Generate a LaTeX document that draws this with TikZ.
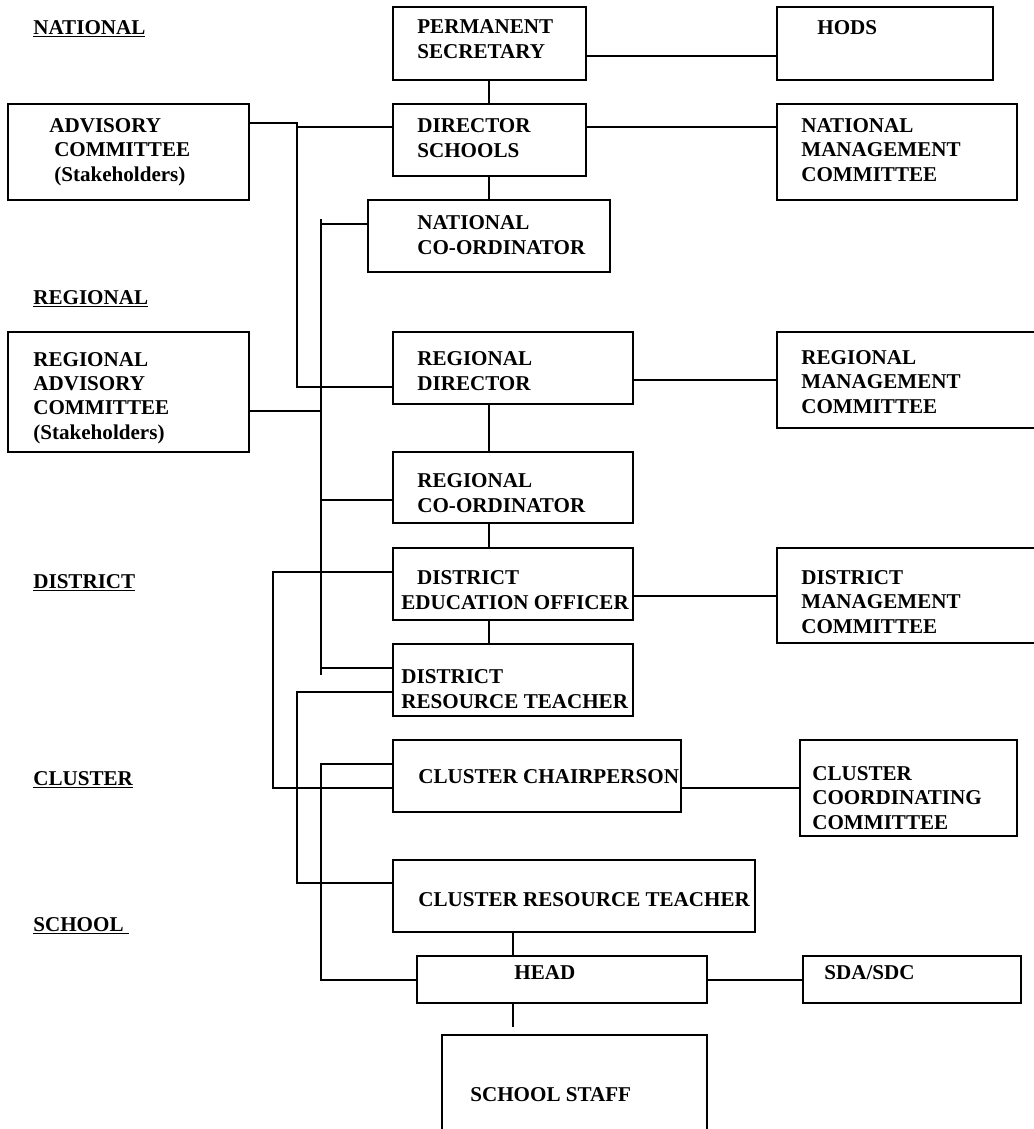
\documentclass[tikz,border=0pt]{standalone}
\usepackage{fontspec}
\setmainfont{Liberation Serif}
\usetikzlibrary{fit}

\begin{document}
\begin{tikzpicture}[x=0.02cm, y=-0.02cm]
	\tikzset{boite/.style={draw=black, line width=1.1pt, inner sep=0pt}, texte/.style={anchor=base west, align=left, inner sep=0pt, font=\fontsize{12}{13.7}\selectfont\bfseries}, trait/.style={line width=1.1pt}};

	\clip (0,0) rectangle (1034,1129);

	% niveaux
	\node[texte] (niv1) at (33,  34) {\underline{NATIONAL}};
	\node[texte] (niv2) at (33, 304) {\underline{REGIONAL}};
	\node[texte] (niv3) at (33, 588) {\underline{DISTRICT}};
	\node[texte] (niv4) at (33, 785) {\underline{CLUSTER}};
	\node[texte] (niv5) at (33, 931) {\underline{SCHOOL\ }};

	% boites
	\node[boite, fit={(393,   7) (586,   80)}] (ps)    {};
	\node[boite, fit={(777,   7) (993,   80)}] (hods)  {};
	\node[boite, fit={(393, 104) (586,  176)}] (ds)    {};
	\node[boite, fit={(777, 104) (1017, 200)}] (nmc)   {};
	\node[boite, fit={(8,   104) (249,  200)}] (acs)   {};
	\node[boite, fit={(368, 200) (610,  272)}] (nc)    {};
	\node[boite, fit={(8,   332) (249,  452)}] (rac)   {};
	\node[boite, fit={(393, 332) (633,  404)}] (rd)    {};
	\node[boite, fit={(777, 332) (1060, 428)}] (rmc)   {};
	\node[boite, fit={(393, 452) (633,  523)}] (rc)    {};
	\node[boite, fit={(393, 548) (633,  620)}] (deo)   {};
	\node[boite, fit={(777, 548) (1060, 643)}] (dmc)   {};
	\node[boite, fit={(393, 644) (633,  716)}] (drt)   {};
	\node[boite, fit={(393, 740) (681,  812)}] (cc)    {};
	\node[boite, fit={(800, 740) (1017, 836)}] (ccc)   {};
	\node[boite, fit={(393, 860) (755,  932)}] (crt)   {};
	\node[boite, fit={(417, 956) (707, 1003)}] (head)  {};
	\node[boite, fit={(803, 956) (1021,1003)}] (sda)   {};
	\node[boite, fit={(442,1035) (707, 1160)}] (staff) {};

	% textes (ancre sur la ligne de base de la derniere ligne)
	\node[texte] (tps)    at (417,  58) {PERMANENT\\SECRETARY};
	\node[texte] (thods)  at (817,  34) {HODS};
	\node[texte] (tds)    at (417, 157) {DIRECTOR\\SCHOOLS};
	\node[texte] (tnmc)   at (801, 181) {NATIONAL\\MANAGEMENT\\COMMITTEE};
	\node[texte] (tacs)   at (49,  181) {ADVISORY\\\hspace*{2.8pt}COMMITTEE\\\hspace*{2.8pt}(Stakeholders)};
	\node[texte] (tnc)    at (417, 254) {NATIONAL\\CO-ORDINATOR};
	\node[texte] (trac)   at (33,  439) {REGIONAL\\ADVISORY\\COMMITTEE\\(Stakeholders)};
	\node[texte] (trd)    at (417, 390) {REGIONAL\\DIRECTOR};
	\node[texte] (trmc)   at (801, 413) {REGIONAL\\MANAGEMENT\\COMMITTEE};
	\node[texte] (trc)    at (417, 512) {REGIONAL\\CO-ORDINATOR};
	\node[texte] (tdeo)   at (401, 609) {\hspace*{9pt}DISTRICT\\EDUCATION OFFICER};
	\node[texte] (tdmc)   at (801, 633) {DISTRICT\\MANAGEMENT\\COMMITTEE};
	\node[texte] (tdrt)   at (401, 708) {DISTRICT\\RESOURCE TEACHER};
	\node[texte] (tcc)    at (418, 783) {CLUSTER CHAIRPERSON};
	\node[texte] (tccc)   at (812, 829) {CLUSTER\\COORDINATING\\COMMITTEE};
	\node[texte] (tcrt)   at (418, 906) {CLUSTER RESOURCE TEACHER};
	\node[texte] (thead)  at (514, 979) {HEAD};
	\node[texte] (tsda)   at (824, 979) {SDA/SDC};
	\node[texte] (tstaff) at (470,1101) {SCHOOL STAFF};

	% axes
	\coordinate (axe)  at (489, 0);
	\coordinate (axe2) at (513, 0);
	\coordinate (busA) at (297, 0);
	\coordinate (busB) at (321, 0);
	\coordinate (busC) at (273, 0);

	% liaisons verticales
	\draw[trait] (ps.south -| axe)   -- (ds.north -| axe);
	\draw[trait] (ds.south -| axe)   -- (nc.north -| axe);
	\draw[trait] (rd.south -| axe)   -- (rc.north -| axe);
	\draw[trait] (rc.south -| axe)   -- (deo.north -| axe);
	\draw[trait] (deo.south -| axe)  -- (drt.north -| axe);
	\draw[trait] (crt.south -| axe2) -- (head.north -| axe2);
	\draw[trait, shorten >=4pt] (head.south -| axe2) -- (staff.north -| axe2);

	% liaisons horizontales
	\draw[trait] (ps.east |- 0,56)    -- (hods.west |- 0,56);
	\draw[trait] (ds.east |- 0,127)   -- (nmc.west |- 0,127);
	\draw[trait] (rd.east |- 0,380)   -- (rmc.west |- 0,380);
	\draw[trait] (deo.east |- 0,596)  -- (dmc.west |- 0,596);
	\draw[trait] (cc.east |- 0,788)   -- (ccc.west |- 0,788);
	\draw[trait] (head.east |- 0,980) -- (sda.west |- 0,980);

	% bus de gauche
	\draw[trait] (acs.east |- 0,123) -- (busA |- 0,123) -- (busA |- 0,127) -- (ds.west |- 0,127);
	\draw[trait] (busA |- 0,123) -- (busA |- 0,387) -- (rd.west |- 0,387);
	\draw[trait] (busB |- 0,219) -- (busB |- 0,675);
	\draw[trait] (busB |- 0,224) -- (nc.west |- 0,224);
	\draw[trait] (rac.east |- 0,411) -- (busB |- 0,411);
	\draw[trait] (busB |- 0,500) -- (rc.west |- 0,500);
	\draw[trait] (busB |- 0,668) -- (drt.west |- 0,668);
	\draw[trait] (deo.west |- 0,572) -| (busC |- 0,788) -- (cc.west |- 0,788);
	\draw[trait] (drt.west |- 0,692) -| (busA |- 0,883) -- (crt.west |- 0,883);
	\draw[trait] (cc.west |- 0,764)  -| (busB |- 0,980) -- (head.west |- 0,980);

\end{tikzpicture}
\end{document}
